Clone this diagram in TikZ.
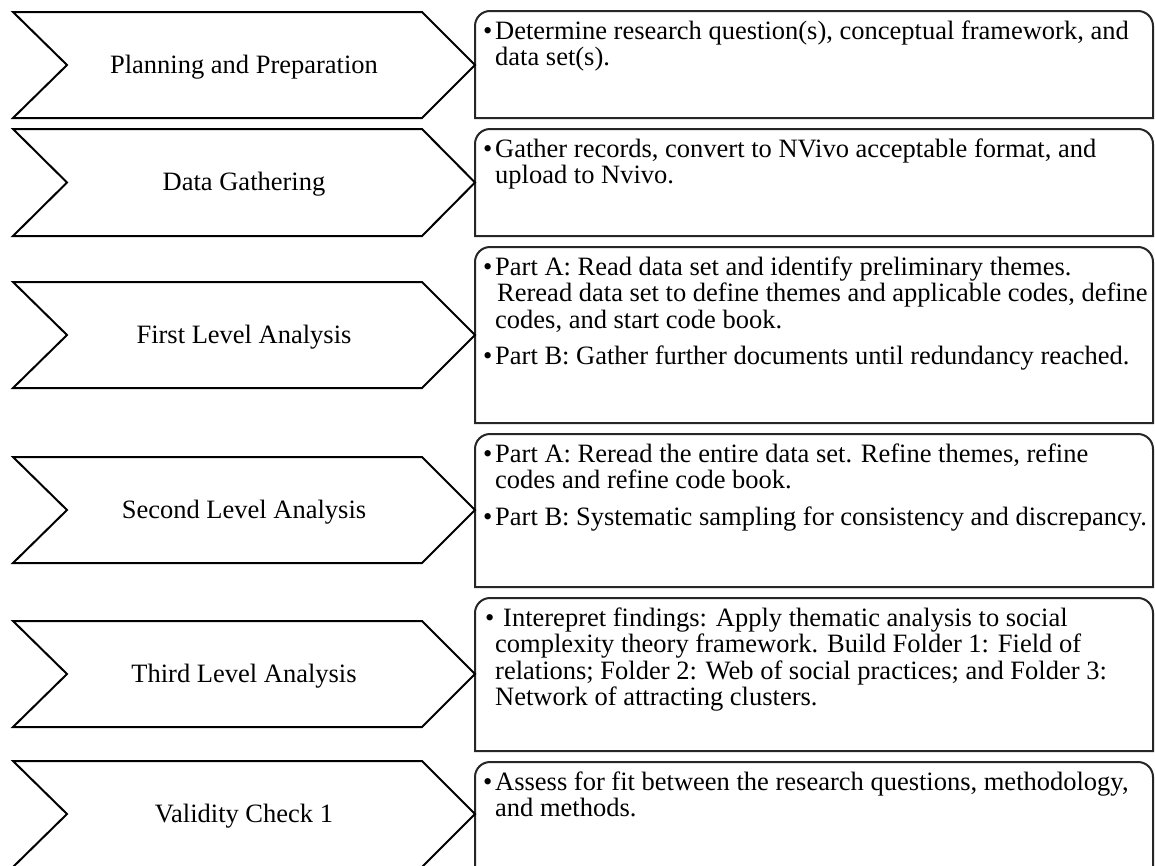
\documentclass[tikz,border=0pt]{standalone}
\usepackage{fontspec}
\setmainfont{Liberation Serif}
\begin{document}
\begin{tikzpicture}[x=1pt,y=-1pt]
\tikzset{
  chev/.style={draw=black, line width=2pt, line join=miter},
  boxline/.style={draw=black!85, line width=2pt},
  lbl/.style={font=\fontsize{26.5}{27}\selectfont, anchor=base, inner sep=0pt},
  txt/.style={font=\fontsize{26.5}{27}\selectfont, anchor=base west, inner sep=0pt},
}
\useasboundingbox (0,0) rectangle (1155,865);
\clip (0,0) rectangle (1155,865);
\fill[white] (0,0) rectangle (1155,865);

% ---------- boxes (rounded top corners) ----------
\foreach \T/\B in {11/118, 129/236, 247/423, 434/587, 598/751, 762/880}{
  \draw[boxline] (475,\B) -- (475,\T+15) arc(180:270:15) -- (1138,\T) arc(270:360:15) -- (1153,\B) -- cycle;
}

% ---------- chevrons ----------
\foreach \t/\b in {12/118, 129/236, 282/388, 457/563, 621/727, 761/867}{
  \pgfmathsetmacro{\c}{(\t+\b)/2}
  \draw[chev] (13,\t) -- (422,\t) -- (475,\c) -- (422,\b) -- (13,\b) -- (67,\c) -- cycle;
}

% ---------- chevron labels ----------
\node[lbl] (l1) at (244,73) {Planning and Preparation};
\node[lbl] (l2) at (244,190.5) {Data Gathering};
\node[lbl] (l3) at (244,343) {First Level Analysis};
\node[lbl] (l4) at (244,518) {Second Level Analysis};
\node[lbl] (l5) at (244,682) {Third Level Analysis};
\node[lbl] (l6) at (244,822) {Validity Check 1};

% ---------- row 1 ----------
\node[txt] (b1) at (483,39.5) {•};
\node[txt] (t1a) at (495,39.5) {Determine research question(s), conceptual framework, and};
\node[txt] (t1b) at (495,65.8) {data set(s).};

% ---------- row 2 ----------
\node[txt] (b2) at (483,157.5) {•};
\node[txt] (t2a) at (495,157.5) {Gather records, convert to NVivo acceptable format, and};
\node[txt] (t2b) at (495,183.8) {upload to Nvivo.};

% ---------- row 3 ----------
\node[txt] (b3a) at (483,275.5) {•};
\node[txt] (t3a) at (495,275.5) {Part A: Read data set and identify preliminary themes.};
\node[txt] (t3b) at (497,301.8) {Reread data set to define themes and applicable codes, define};
\node[txt] (t3c) at (495,328.1) {codes, and start code book.};
\node[txt] (b3b) at (483,364.4) {•};
\node[txt] (t3d) at (495,364.4) {Part B: Gather further documents until redundancy reached.};

% ---------- row 4 ----------
\node[txt] (b4a) at (483,462.5) {•};
\node[txt] (t4a) at (495,462.5) {Part A: Reread the entire data set. Refine themes, refine};
\node[txt] (t4b) at (495,488.8) {codes and refine code book.};
\node[txt] (b4b) at (483,525.1) {•};
\node[txt] (t4c) at (495,525.1) {Part B: Systematic sampling for consistency and discrepancy.};

% ---------- row 5 ----------
\node[txt] (b5) at (485,626.5) {•};
\node[txt] (t5a) at (503,626.5) {Interepret findings: Apply thematic analysis to social};
\node[txt] (t5b) at (495,652.8) {complexity theory framework. Build Folder 1: Field of};
\node[txt] (t5c) at (495,679.1) {relations; Folder 2: Web of social practices; and Folder 3:};
\node[txt] (t5d) at (495,705.4) {Network of attracting clusters.};

% ---------- row 6 ----------
\node[txt] (b6) at (483,790.5) {•};
\node[txt] (t6a) at (495,790.5) {Assess for fit between the research questions, methodology,};
\node[txt] (t6b) at (495,816.8) {and methods.};
\end{tikzpicture}
\end{document}
